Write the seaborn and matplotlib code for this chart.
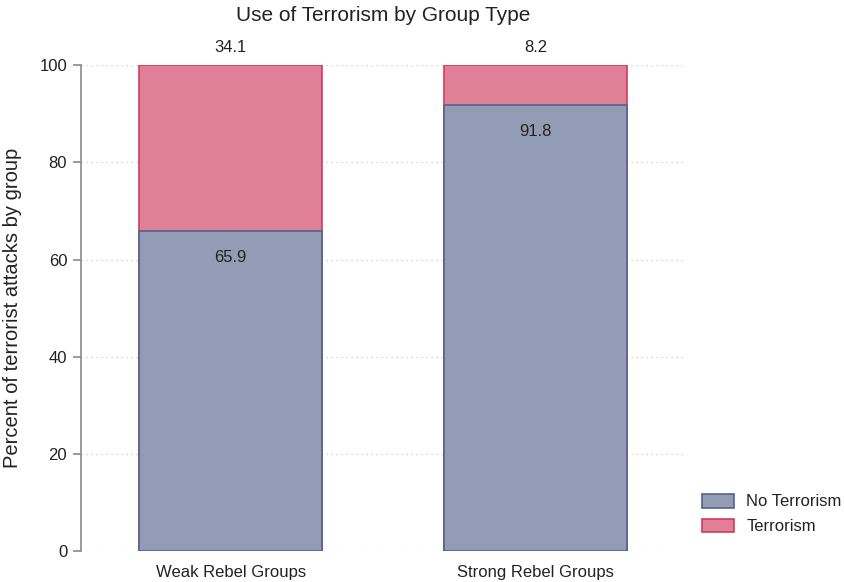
import pandas as pd
import numpy as np
import matplotlib.pyplot as plt
import seaborn as sns

# Data
groups = ['Weak Rebel Groups', 'Strong Rebel Groups']
no_terrorism = [65.9, 91.8]
terrorism = [34.1, 8.2]

sns.set_theme(style='white')
plt.rcParams['font.family'] = ['Liberation Sans', 'DejaVu Sans']

df = pd.DataFrame({'group': groups, 'no_terr': no_terrorism, 'terr': terrorism})
df['total'] = df['no_terr'] + df['terr']

blue_fill, blue_edge = '#929db5', '#56628f'
pink_fill, pink_edge = '#df8096', '#d23a62'
txt = '#222222'

fig = plt.figure(figsize=(8.45, 5.82), dpi=100)
ax = fig.add_axes([0.096, 0.053, 0.715, 0.835])

# stacked bars: full height first, then the lower segment over it
sns.barplot(data=df, x='group', y='total', color=pink_fill, saturation=1,
            width=0.6, edgecolor=pink_edge, linewidth=1.2, ax=ax,
            label='Terrorism')
sns.barplot(data=df, x='group', y='no_terr', color=blue_fill, saturation=1,
            width=0.6, edgecolor=blue_edge, linewidth=1.2, ax=ax,
            label='No Terrorism')

# value labels
ax.bar_label(ax.containers[0], labels=[f'{v:.1f}' for v in df['terr']],
             padding=7, fontsize=12, color=txt)
ax.bar_label(ax.containers[1], labels=[f'{v:.1f}' for v in df['no_terr']],
             padding=-24.5, fontsize=12, color=txt)

ax.set_xlim(-0.49, 1.49)
ax.set_ylim(0, 100)
ax.set_yticks([0, 20, 40, 60, 80, 100])
ax.yaxis.grid(True, linestyle=(0, (1, 3)), color='#c8c8c8', linewidth=0.9)
ax.set_axisbelow(True)

for s in ['top', 'right', 'bottom']:
    ax.spines[s].set_visible(False)
ax.spines['left'].set_color('#8a8a8a')
ax.spines['left'].set_linewidth(1.2)
ax.tick_params(axis='y', left=True, length=6, color='#8a8a8a', width=1.2,
               labelsize=12, pad=4, labelcolor=txt)
ax.tick_params(axis='x', bottom=False, labelsize=12, pad=4, labelcolor=txt)

ax.set_xlabel('')
ax.set_ylabel('Percent of terrorist attacks by group', fontsize=14.5, color=txt)
ax.yaxis.set_label_coords(-0.098, 0.5)
ax.set_title('Use of Terrorism by Group Type', fontsize=15, color=txt, pad=32)

handles, labels = ax.get_legend_handles_labels()
if ax.get_legend() is not None:
    ax.get_legend().remove()
order = [labels.index('No Terrorism'), labels.index('Terrorism')]
fig.legend([handles[i] for i in order], [labels[i] for i in order],
           loc='lower left', bbox_to_anchor=(0.831, 0.082), frameon=False,
           borderaxespad=0, borderpad=0, fontsize=12, handlelength=1.9,
           handleheight=0.9, handletextpad=0.75, labelspacing=0.55,
           labelcolor=txt)

fig.savefig('out.png', dpi=100)
